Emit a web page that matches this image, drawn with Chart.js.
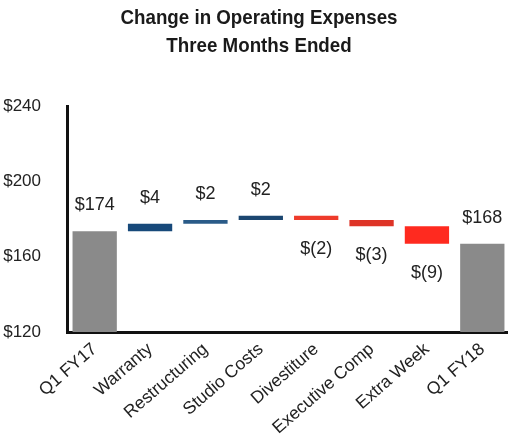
<!DOCTYPE html>
<html>
<head>
<meta charset="utf-8">
<script src="https://cdn.jsdelivr.net/npm/chart.js@4/dist/chart.umd.min.js"></script>
<style>
  html, body { margin: 0; padding: 0; background: #fff; overflow: hidden; }
  #wrap { width: 510px; height: 438px; }
</style>
</head>
<body>
<div id="wrap"><canvas id="opexChart"></canvas></div>
<script>
// Waterfall data (labels as printed)
const categories = ['Q1 FY17', 'Warranty', 'Restructuring', 'Studio Costs', 'Divestiture', 'Executive Comp', 'Extra Week', 'Q1 FY18'];
const startTotal = 173.5;
const changes = [4, 2, 2.2, -2.2, -3.4, -9.2];
const valueLabels = ['$174', '$4', '$2', '$2', '$(2)', '$(3)', '$(9)', '$168'];
const yTicks = [120, 160, 200, 240];
const titleLines = ['Change in Operating Expenses', 'Three Months Ended'];

const barColors = ['#8a8a8a', '#17497a', '#2a5b88', '#1b4670', '#ee3b2b', '#de3427', '#ff2a1f', '#8a8a8a'];

// build floating bar ranges from the running level
let level = startTotal;
const ranges = [[0, startTotal]];
changes.forEach(c => { ranges.push([level, level + c]); level += c; });
ranges.push([0, level]);
const isDown = [false, ...changes.map(c => c < 0), false];

// condensed bold title (no narrow font installed, so squeeze it)
const titlePlugin = {
  id: 'titlePlugin',
  afterDraw(chart) {
    const ctx = chart.ctx;
    ctx.save();
    ctx.font = 'bold 21px "Liberation Sans", Arial, sans-serif';
    ctx.fillStyle = '#1a1a1a';
    ctx.textAlign = 'center';
    ctx.textBaseline = 'alphabetic';
    const sx = 277 / ctx.measureText(titleLines[0]).width;
    ctx.translate(259, 0);
    ctx.scale(sx, 1);
    ctx.fillText(titleLines[0], 0, 23.5);
    ctx.fillText(titleLines[1], 0, 51.5);
    ctx.restore();
  }
};

const labelPlugin = {
  id: 'labelPlugin',
  afterDatasetsDraw(chart) {
    const ctx = chart.ctx;
    const meta = chart.getDatasetMeta(0);
    ctx.save();
    ctx.font = '18px "Liberation Sans", Arial, sans-serif';
    ctx.fillStyle = '#222';
    ctx.textAlign = 'center';
    ctx.textBaseline = 'middle';
    meta.data.forEach((bar, i) => {
      const p = bar.getProps(['x', 'y', 'base'], true);
      const top = Math.min(p.y, p.base);
      const bottom = Math.max(p.y, p.base);
      if (isDown[i]) ctx.fillText(valueLabels[i], p.x, bottom + 29);
      else ctx.fillText(valueLabels[i], p.x, top - 26);
    });
    ctx.restore();
  }
};

const ctx = document.getElementById('opexChart').getContext('2d');
new Chart(ctx, {
  type: 'bar',
  data: {
    labels: categories,
    datasets: [{
      data: ranges,
      backgroundColor: barColors,
      borderWidth: 0,
      barPercentage: 0.8,
      categoryPercentage: 1
    }]
  },
  options: {
    responsive: true,
    maintainAspectRatio: false,
    animation: false,
    layout: { padding: { top: 106, left: 0, right: 0, bottom: 0 } },
    plugins: {
      legend: { display: false },
      tooltip: { enabled: false },
      title: { display: false }
    },
    scales: {
      x: {
        grid: { display: false, drawTicks: false },
        border: { display: true, color: '#111', width: 3 },
        ticks: {
          color: '#222',
          font: { family: '"Liberation Sans", Arial, sans-serif', size: 17.5 },
          maxRotation: 41,
          minRotation: 41,
          padding: 7,
          autoSkip: false
        },
        afterFit(scale) { scale.height = 106; }
      },
      y: {
        min: 120,
        max: 240,
        grid: { display: false, drawTicks: false },
        border: { display: true, color: '#111', width: 3 },
        afterBuildTicks(scale) { scale.ticks = yTicks.map(v => ({ value: v })); },
        ticks: {
          color: '#222',
          font: { family: '"Liberation Sans", Arial, sans-serif', size: 17 },
          padding: 26,
          callback: v => '$' + v
        },
        afterFit(scale) { scale.width = 67; }
      }
    }
  },
  plugins: [labelPlugin, titlePlugin]
});
</script>
</body>
</html>
